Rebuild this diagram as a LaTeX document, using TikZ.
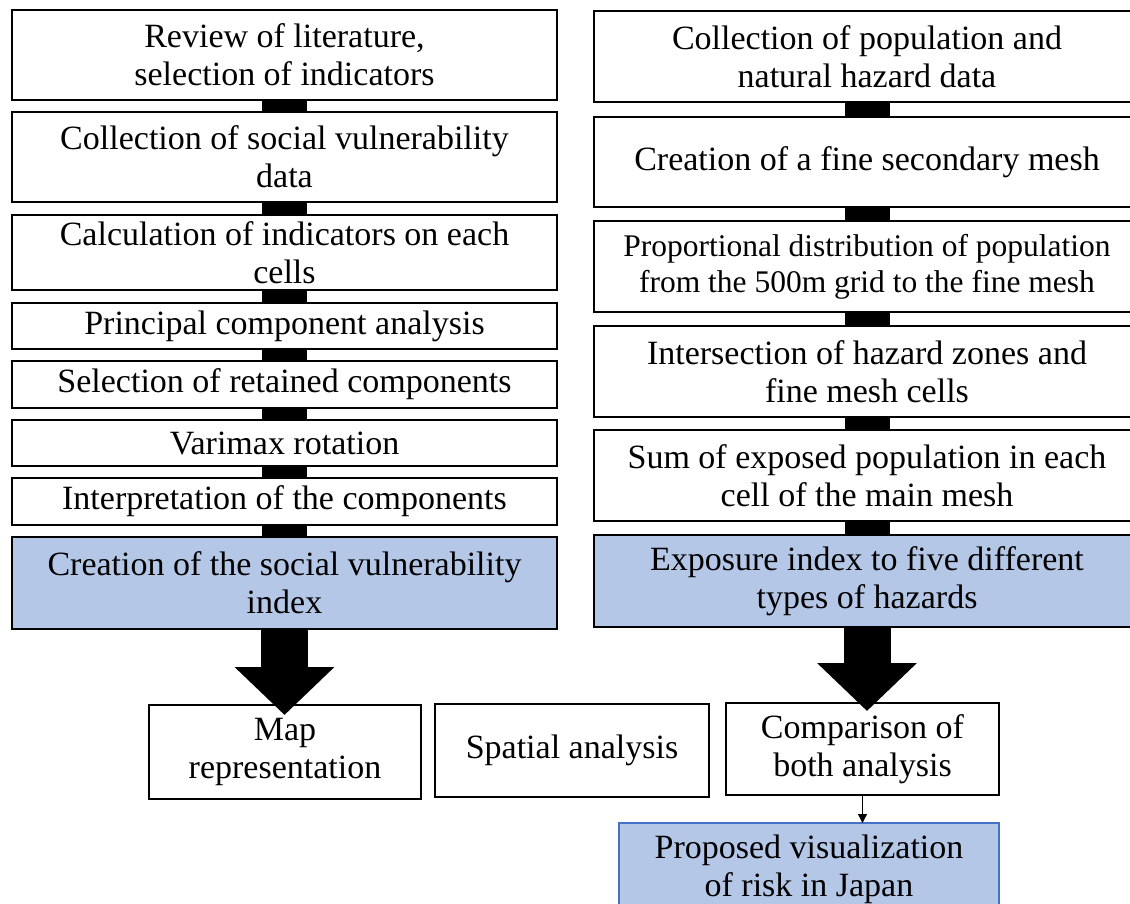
\documentclass[tikz,border=0pt]{standalone}
\usepackage{fontspec}
\setmainfont{Liberation Serif}
\usepackage{xcolor}
\usetikzlibrary{arrows.meta}
\definecolor{idxblue}{HTML}{B4C7E7}
\definecolor{propline}{HTML}{4472C4}

\begin{document}
\begin{tikzpicture}[x=1pt,y=-1pt,
  box/.style={draw,line width=1.5pt,align=center,inner sep=0pt,outer sep=0pt,font=\fontsize{34}{38}\selectfont},
  lbox/.style={box,minimum width=545pt},
  rbox/.style={box,minimum width=546pt},
  idx/.style={fill=idxblue},
  bar/.style={line width=45pt},
  bigarrow/.style={line width=47pt,-{Triangle[width=97pt,length=48pt]}}]
\useasboundingbox (0,0) rectangle (1130,904);
\node [lbox,minimum height=90pt] (L1) at (284.5,55) {Review of literature,\\selection of indicators};
\node [lbox,minimum height=90pt] (L2) at (284.5,157) {Collection of social vulnerability\\data};
\node [lbox,minimum height=75pt] (L3) at (284.5,252.5) {Calculation of indicators on each\\cells};
\node [lbox,minimum height=46pt] (L4) at (284.5,326) {Principal component analysis};
\node [lbox,minimum height=47pt] (L5) at (284.5,384.5) {Selection of retained components};
\node [lbox,minimum height=46pt] (L6) at (284.5,443) {Varimax rotation};
\node [lbox,minimum height=47pt] (L7) at (284.5,501.5) {Interpretation of the components};
\node [lbox,idx,minimum height=92pt] (L8) at (284.5,583) {Creation of the social vulnerability\\index};
\node [rbox,minimum height=91pt] (R1) at (867,56.5) {Collection of population and\\natural hazard data};
\node [rbox,minimum height=90pt] (R2) at (867,162) {Creation of a fine secondary mesh};
\node [rbox,minimum height=91pt,font=\fontsize{31.5}{36}\selectfont] (R3) at (867,266.5) {Proportional distribution of population\\from the 500m grid to the fine mesh};
\node [rbox,minimum height=91pt] (R4) at (867,371.5) {Intersection of hazard zones and\\fine mesh cells};
\node [rbox,minimum height=91pt] (R5) at (867,475.5) {Sum of exposed population in each\\cell of the main mesh};
\node [rbox,idx,minimum height=92pt] (R6) at (867,581) {Exposure index to five different\\types of hazards};
\node [box,minimum width=272pt,minimum height=94pt] (map) at (285,752) {Map\\representation};
\node [box,minimum width=274pt,minimum height=93pt] (spat) at (572,750.5) {Spatial analysis};
\node [box,minimum width=273pt,minimum height=92pt] (comp) at (862.5,749) {Comparison of\\both analysis};
\node [box,idx,draw=propline,minimum width=380pt,minimum height=92pt] (prop) at (809,869) {Proposed visualization\\of risk in Japan};
\draw [bar] (L1) -- (L2);
\draw [bar] (L2) -- (L3);
\draw [bar] (L3) -- (L4);
\draw [bar] (L4) -- (L5);
\draw [bar] (L5) -- (L6);
\draw [bar] (L6) -- (L7);
\draw [bar] (L7) -- (L8);
\draw [bar] (R1) -- (R2);
\draw [bar] (R2) -- (R3);
\draw [bar] (R3) -- (R4);
\draw [bar] (R4) -- (R5);
\draw [bar] (R5) -- (R6);
\path (L8.south |- map.north) ++(0,10) coordinate (ltip);
\path (R6.south |- comp.north) ++(0,8) coordinate (rtip);
\draw [bigarrow] (L8.south) -- (ltip);
\draw [bigarrow] (R6.south) -- (rtip);
\draw [line width=1.2pt,-{Triangle[width=9pt,length=9pt]}] (comp) -- (comp.south |- prop.north);
\end{tikzpicture}
\end{document}
